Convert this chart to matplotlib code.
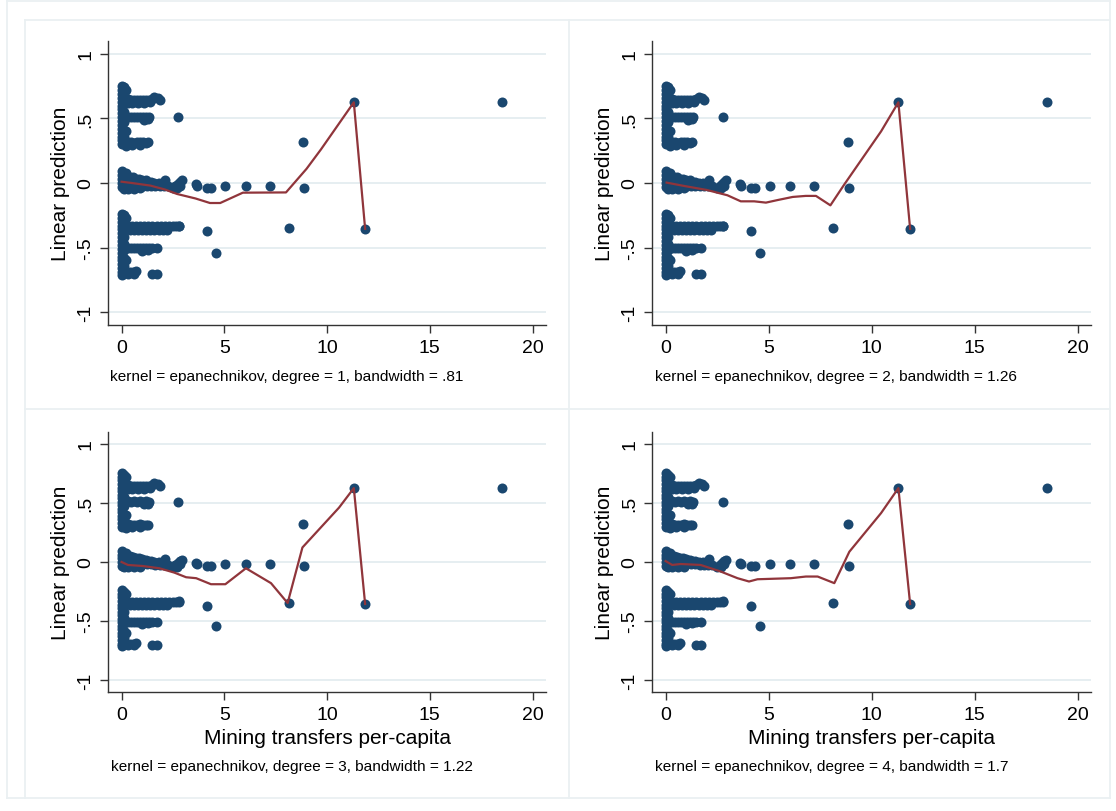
import matplotlib
matplotlib.use('Agg')
import matplotlib.pyplot as plt
from matplotlib.lines import Line2D

plt.rcParams['font.family'] = ['Liberation Sans', 'DejaVu Sans']

# ---------------- data ----------------
# scatter points (same in every panel): mining transfers per-capita vs linear prediction
pt_x = [
    # top cluster strip
    0.02, 0.02, 0.02, 0.02, 0.02, 0.02, 0.02, 0.02, 0.02, 0.02, 0.02, 0.02, 0.02, 0.02, 0.02, 0.02,
    0.12, 0.12, 0.12, 0.12, 0.12, 0.12, 0.12, 0.12, 0.12, 0.12, 0.2, 0.22, 0.2,
    # branch ~0.64
    0.3, 0.45, 0.6, 0.75, 0.9, 1.05, 1.2, 1.35, 1.5, 1.6, 1.75, 1.85,
    0.3, 0.5, 0.8, 1.1, 1.4,
    # branch ~0.51
    0.3, 0.45, 0.6, 0.75, 0.9, 1.05, 1.2, 1.35, 1.1, 1.3, 2.77,
    # branch ~0.31
    0.3, 0.45, 0.6, 0.75, 0.9, 1.05, 1.2, 1.3, 0.5, 0.9,
    # middle cluster strip
    0.02, 0.02, 0.02, 0.02, 0.02, 0.12, 0.12, 0.12, 0.12, 0.2,
    0.25, 0.4, 0.55,
    0.7, 0.85, 1.0, 1.2,
    0.3, 0.6, 0.9, 1.3, 1.45, 1.6, 1.8, 2.0,
    0.25, 0.45, 0.65, 0.85, 1.05, 1.25, 1.45, 1.65, 1.85, 2.05, 2.25,
    0.3, 0.6, 0.9, 2.1,
    2.5, 2.62, 2.75, 2.85, 2.95, 2.7, 2.85,
    3.6, 3.65, 4.15, 4.35, 5.05, 6.05, 7.2, 8.88, 8.85,
    # lower cluster strip
    0.02, 0.02, 0.02, 0.02, 0.02, 0.02, 0.02, 0.02, 0.02, 0.02, 0.02, 0.02, 0.02, 0.02, 0.02, 0.02, 0.02,
    0.12, 0.12, 0.12, 0.12, 0.12, 0.12, 0.12, 0.12, 0.12, 0.2, 0.2,
    # branch ~-0.35
    0.3, 0.5, 0.7, 0.9, 1.1, 1.3, 1.5, 1.7, 1.9, 2.1, 2.3, 2.5, 2.65, 2.8,
    0.4, 0.6, 0.8, 1.0, 1.2, 1.4, 1.6, 1.8, 2.0, 2.2, 2.8,
    4.15, 8.15, 11.85,
    # branch ~-0.51
    0.3, 0.45, 0.6, 0.75, 0.9, 1.05, 1.2, 1.35, 1.5, 1.7, 1.0, 1.3, 4.6,
    # bottom branch ~-0.7
    0.25, 0.4, 0.55, 0.7, 0.3, 0.6, 1.5, 1.72,
    # far points
    11.3, 18.5,
]
pt_y = [
    0.75, 0.72, 0.69, 0.66, 0.63, 0.60, 0.57, 0.54, 0.51, 0.48, 0.45, 0.42, 0.39, 0.36, 0.33, 0.30,
    0.74, 0.70, 0.66, 0.62, 0.55, 0.51, 0.47, 0.40, 0.36, 0.31, 0.72, 0.40, 0.29,
    0.65, 0.645, 0.64, 0.645, 0.64, 0.645, 0.64, 0.645, 0.65, 0.665, 0.66, 0.645,
    0.62, 0.62, 0.62, 0.62, 0.625,
    0.515, 0.51, 0.515, 0.51, 0.515, 0.51, 0.515, 0.51, 0.49, 0.495, 0.51,
    0.32, 0.315, 0.31, 0.315, 0.32, 0.315, 0.31, 0.315, 0.295, 0.295,
    0.09, 0.06, 0.03, 0.0, -0.03, 0.07, 0.03, -0.01, -0.045, 0.075,
    0.055, 0.05, 0.045,
    0.03, 0.03, 0.025, 0.02,
    0.01, 0.01, 0.01, 0.005, 0.005, 0.0, 0.0, 0.0,
    -0.02, -0.02, -0.02, -0.02, -0.02, -0.02, -0.02, -0.025, -0.025, -0.025, -0.025,
    -0.045, -0.045, -0.04, 0.025,
    -0.04, -0.025, -0.01, 0.005, 0.02, -0.04, -0.02,
    -0.01, -0.02, -0.035, -0.035, -0.02, -0.02, -0.02, -0.035, 0.32,
    -0.24, -0.27, -0.30, -0.33, -0.36, -0.39, -0.42, -0.45, -0.48, -0.51, -0.54, -0.57, -0.60, -0.63, -0.66, -0.69, -0.71,
    -0.25, -0.30, -0.36, -0.42, -0.47, -0.52, -0.58, -0.64, -0.69, -0.27, -0.60,
    -0.335, -0.335, -0.335, -0.335, -0.335, -0.335, -0.335, -0.335, -0.335, -0.335, -0.335, -0.335, -0.335, -0.335,
    -0.365, -0.365, -0.365, -0.365, -0.365, -0.365, -0.365, -0.365, -0.365, -0.365, -0.33,
    -0.37, -0.35, -0.355,
    -0.505, -0.505, -0.505, -0.505, -0.505, -0.505, -0.505, -0.505, -0.505, -0.505, -0.525, -0.52, -0.54,
    -0.69, -0.69, -0.69, -0.685, -0.705, -0.705, -0.705, -0.705,
    0.625, 0.625,
]

# local polynomial smooths, one per panel
line1_x = [0.0, 0.5, 1.4, 2.1, 2.7, 3.6, 4.3, 4.8, 5.9, 8.0, 9.0, 9.7, 11.3, 11.85]
line1_y = [0.01, 0.0, -0.02, -0.05, -0.085, -0.12, -0.155, -0.155, -0.075, -0.073, 0.11, 0.26, 0.625, -0.355]

line2_x = [0.05, 0.9, 2.0, 3.0, 3.65, 4.3, 4.87, 5.44, 6.17, 6.8, 7.3, 8.0, 8.68, 10.46, 11.3, 11.87]
line2_y = [0.003, -0.023, -0.054, -0.095, -0.142, -0.142, -0.152, -0.132, -0.108, -0.10, -0.10, -0.173, -0.01, 0.40, 0.625, -0.355]

line3_x = [0.0, 0.31, 1.03, 1.84, 2.57, 3.14, 3.63, 4.35, 5.05, 6.05, 7.27, 8.08, 8.8, 10.58, 11.3, 11.85]
line3_y = [0.0, -0.025, -0.034, -0.053, -0.09, -0.129, -0.137, -0.188, -0.188, -0.053, -0.179, -0.347, 0.123, 0.46, 0.625, -0.355]

line4_x = [0.0, 0.32, 0.73, 1.7, 2.68, 3.49, 4.05, 4.46, 6.08, 6.81, 7.38, 8.19, 8.92, 10.46, 11.3, 11.87]
line4_y = [0.008, -0.025, -0.017, -0.025, -0.081, -0.137, -0.165, -0.146, -0.137, -0.123, -0.123, -0.179, 0.087, 0.414, 0.625, -0.355]

lines_x = [line1_x, line2_x, line3_x, line4_x]
lines_y = [line1_y, line2_y, line3_y, line4_y]

notes = [
    "kernel = epanechnikov, degree = 1, bandwidth = .81",
    "kernel = epanechnikov, degree = 2, bandwidth = 1.26",
    "kernel = epanechnikov, degree = 3, bandwidth = 1.22",
    "kernel = epanechnikov, degree = 4, bandwidth = 1.7",
]
x_ticks = [0, 5, 10, 15, 20]
x_tick_labels = ["0", "5", "10", "15", "20"]
y_ticks = [-1, -0.5, 0, 0.5, 1]
y_tick_labels = ["-1", "-.5", "0", ".5", "1"]
y_title = "Linear prediction"
x_title = "Mining transfers per-capita"

# ---------------- style ----------------
W, H = 1116, 812
MARKER = '#1A476F'
LINE = '#90353B'
GRID = '#E4EDF0'
FRAME = '#EAF0F2'
AX = '#333333'

fig = plt.figure(figsize=(W / 100, H / 100), dpi=100)
fig.patch.set_facecolor('white')


def frect(l, t, r, b):
    return [l / W, 1 - b / H, (r - l) / W, (b - t) / H]


def hline(x0, x1, y):
    fig.add_artist(Line2D([x0 / W, x1 / W], [1 - y / H, 1 - y / H], transform=fig.transFigure,
                          color=FRAME, lw=1.3, zorder=0))


def vline(x, y0, y1):
    fig.add_artist(Line2D([x / W, x / W], [1 - y0 / H, 1 - y1 / H], transform=fig.transFigure,
                          color=FRAME, lw=1.3, zorder=0))


# outer frame and panel frames
hline(7, 1110, 2); vline(7, 2, 799); vline(1110, 2, 799); hline(7, 1110, 799)
hline(25, 1110, 21); vline(25, 21, 799); vline(569, 21, 799); hline(25, 1110, 410)

panels = [
    (108, 42, 546, 326),
    (652, 42, 1091, 326),
    (108, 433, 546, 693),
    (652, 433, 1091, 693),
]
note_pos = [(110, 377), (655, 377), (111, 767), (655, 767)]

for i, (l, t, r, b) in enumerate(panels):
    ax = fig.add_axes(frect(l, t, r, b))
    ax.set_xlim(-0.66, 20.65)
    ax.set_ylim(-1.1, 1.1)
    ax.set_facecolor('white')
    for s in ['top', 'right']:
        ax.spines[s].set_visible(False)
    for s in ['left', 'bottom']:
        ax.spines[s].set_color(AX)
        ax.spines[s].set_linewidth(1.0)
    ax.set_yticks(y_ticks)
    ax.set_yticklabels(y_tick_labels, rotation=90, va='center')
    ax.set_xticks(x_ticks)
    ax.set_xticklabels(x_tick_labels)
    ax.tick_params(axis='both', direction='out', length=6, width=1.0, color=AX,
                   labelsize=14, pad=4, labelcolor='black')
    ax.yaxis.grid(True, color=GRID, lw=1.3)
    ax.set_axisbelow(True)
    ax.plot(pt_x, pt_y, 'o', color=MARKER, ms=7.2, mew=0, zorder=3, clip_on=False)
    ax.plot(lines_x[i], lines_y[i], '-', color=LINE, lw=1.6, zorder=4)

    cy = (t + b) / 2
    fig.text(60 / W if l < 500 else 604 / W, 1 - cy / H, y_title, rotation=90,
             ha='center', va='center', fontsize=15)
    nx, ny = note_pos[i]
    fig.text(nx / W, 1 - ny / H, notes[i], ha='left', va='center', fontsize=11.1)
    if i >= 2:
        fig.text(((l + r) / 2) / W, 1 - 739 / H, x_title, ha='center', va='center', fontsize=15)

fig.savefig('out.png', dpi=100, facecolor='white')
